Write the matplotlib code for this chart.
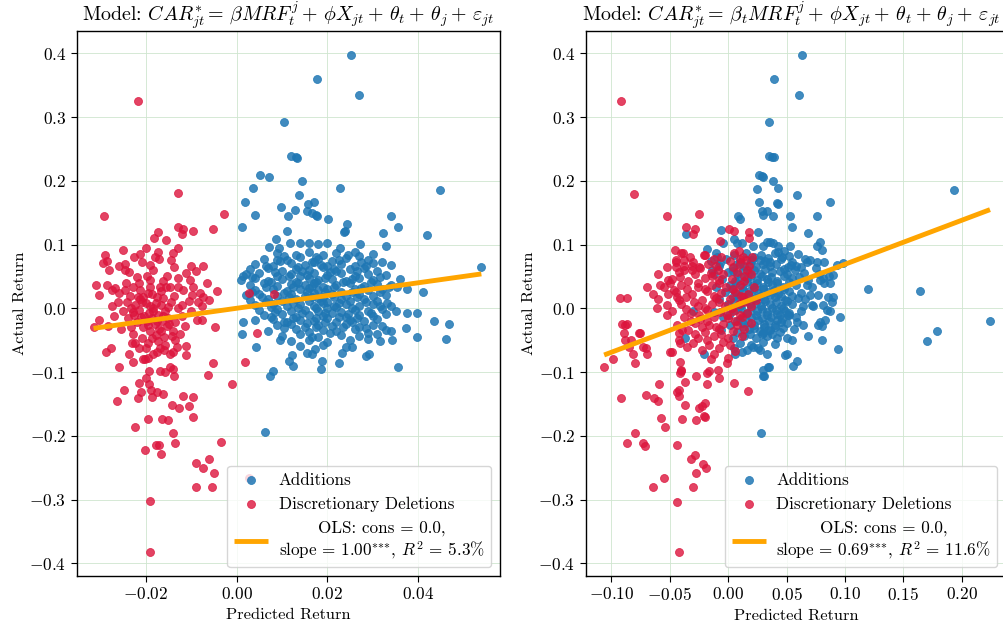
import matplotlib
matplotlib.use("Agg")
import matplotlib.pyplot as plt

plt.rcParams['font.family'] = ['cmr10', 'DejaVu Serif']
plt.rcParams['mathtext.fontset'] = 'cm'
plt.rcParams['axes.formatter.use_mathtext'] = True

# ---------------- data (predicted return, actual return) ----------------
ADD_LEFT = [
    (0.0251, 0.397), (0.0177, 0.359), (0.0269, 0.335), (0.0105, 0.292), (0.0120, 0.239), (0.0131, 0.238),
    (0.0133, 0.235), (0.0052, 0.209), (0.0072, 0.206), (0.0037, 0.188), (0.0143, 0.199), (0.0227, 0.188),
    (0.0448, 0.186), (0.0138, 0.178), (0.0019, 0.167), (0.0098, 0.159), (0.0129, 0.154), (0.0157, 0.164),
    (0.0171, 0.166), (0.0156, 0.153), (0.0166, 0.149), (0.0175, 0.146), (0.0178, 0.144), (0.0113, 0.145),
    (0.0041, 0.147), (0.0201, 0.140), (0.0243, 0.133), (0.0237, 0.120), (0.0340, 0.145), (0.0355, 0.128),
    (0.0323, 0.118), (0.0329, 0.098), (0.0419, 0.115), (0.0111, 0.122), (0.0013, 0.127), (0.0271, 0.101),
    (0.0539, 0.064), (0.0411, 0.026), (0.0375, 0.030), (0.0353, 0.034), (0.0331, 0.008), (0.0467, -0.024),
    (0.0434, -0.020), (0.0461, -0.048), (0.0397, -0.008), (0.0375, -0.007), (0.0373, -0.031), (0.0398, -0.045),
    (0.0356, -0.092), (0.0062, -0.194), (0.0074, -0.107), (0.0081, -0.098), (0.0124, -0.091), (0.0116, -0.083),
    (0.0121, -0.074), (0.0186, -0.095), (0.0187, -0.083), (0.0225, -0.086), (0.0284, -0.075), (0.0291, -0.072),
    (0.0254, -0.061), (0.0232, -0.070), (0.0155, -0.070), (0.0166, -0.071), (0.0173, -0.064), (0.0096, -0.050),
    (0.0087, 0.108), (0.0072, 0.096), (0.0094, 0.095), (0.0089, 0.076), (0.0015, 0.050), (0.0239, 0.121),
    (0.0228, 0.095), (0.0118, 0.102), (0.0140, 0.102), (0.0160, 0.103), (0.0180, 0.101), (0.0200, 0.102),
    (0.0011, -0.041), (0.0015, -0.021), (0.0043, -0.060), (0.0316, -0.052), (0.0342, -0.050), (0.0351, -0.005),
    (0.0340, -0.035), (0.0320, -0.028), (0.0260, 0.088), (0.0300, 0.085),
    (0.009, 0.086), (0.013, 0.083), (0.016, 0.088), (0.019, 0.084), (0.022, 0.087), (0.027, 0.082),
    (0.006, 0.078), (0.011, 0.075), (0.014, 0.080), (0.018, 0.077), (0.021, 0.074), (0.024, 0.079),
    (0.029, 0.076), (0.032, 0.073), (0.004, 0.070), (0.008, 0.067), (0.012, 0.071), (0.015, 0.068),
    (0.017, 0.072), (0.020, 0.066), (0.023, 0.070), (0.026, 0.067), (0.030, 0.071), (0.034, 0.068),
    (0.003, 0.061), (0.007, 0.063), (0.010, 0.059), (0.013, 0.062), (0.016, 0.060), (0.019, 0.064),
    (0.022, 0.058), (0.025, 0.061), (0.028, 0.063), (0.031, 0.059), (0.002, 0.053), (0.005, 0.055),
    (0.009, 0.051), (0.012, 0.054), (0.014, 0.050), (0.017, 0.056), (0.020, 0.052), (0.023, 0.055),
    (0.026, 0.050), (0.029, 0.054), (0.033, 0.052), (0.001, 0.045), (0.004, 0.047), (0.007, 0.043),
    (0.010, 0.046), (0.013, 0.042), (0.016, 0.048), (0.018, 0.044), (0.021, 0.046), (0.024, 0.043),
    (0.027, 0.047), (0.030, 0.044), (0.036, 0.046), (0.003, 0.037), (0.006, 0.039), (0.009, 0.035),
    (0.012, 0.038), (0.015, 0.036), (0.017, 0.040), (0.019, 0.034), (0.022, 0.037), (0.025, 0.039),
    (0.028, 0.035), (0.031, 0.038), (0.034, 0.036), (0.004, 0.029), (0.008, 0.031), (0.011, 0.027),
    (0.014, 0.030), (0.016, 0.032), (0.018, 0.028), (0.020, 0.030), (0.023, 0.026), (0.026, 0.031),
    (0.029, 0.028), (0.032, 0.030), (0.002, 0.021), (0.005, 0.023), (0.009, 0.019), (0.012, 0.022),
    (0.015, 0.020), (0.017, 0.024), (0.019, 0.018), (0.021, 0.022), (0.024, 0.020), (0.027, 0.023),
    (0.030, 0.019), (0.033, 0.021), (0.003, 0.013), (0.007, 0.015), (0.010, 0.011), (0.013, 0.014),
    (0.016, 0.012), (0.018, 0.016), (0.020, 0.010), (0.023, 0.014), (0.025, 0.012), (0.028, 0.015),
    (0.031, 0.011), (0.004, 0.005), (0.008, 0.007), (0.011, 0.003), (0.014, 0.006), (0.017, 0.004),
    (0.019, 0.008), (0.022, 0.002), (0.024, 0.006), (0.027, 0.004), (0.030, 0.007), (0.034, 0.003),
    (0.005, -0.003), (0.009, -0.001), (0.012, -0.005), (0.015, -0.002), (0.018, -0.004), (0.020, 0.000),
    (0.023, -0.006), (0.026, -0.002), (0.029, -0.004), (0.032, -0.001), (0.006, -0.011), (0.010, -0.009),
    (0.013, -0.013), (0.016, -0.010), (0.019, -0.012), (0.021, -0.008), (0.024, -0.014), (0.027, -0.010),
    (0.030, -0.012), (0.033, -0.009), (0.004, -0.019), (0.008, -0.017), (0.011, -0.021), (0.014, -0.018),
    (0.017, -0.020), (0.020, -0.016), (0.022, -0.022), (0.025, -0.018), (0.028, -0.020), (0.031, -0.017),
    (0.009, -0.027), (0.012, -0.025), (0.015, -0.029), (0.018, -0.026), (0.021, -0.028), (0.024, -0.024),
    (0.027, -0.030), (0.030, -0.026), (0.007, -0.035), (0.013, -0.033), (0.016, -0.037), (0.019, -0.034),
    (0.022, -0.036), (0.026, -0.032), (0.029, -0.038), (0.033, -0.034), (0.010, -0.043), (0.014, -0.041),
    (0.018, -0.045), (0.023, -0.042), (0.027, -0.044), (0.031, -0.040), (0.012, -0.051), (0.016, -0.049),
    (0.020, -0.053), (0.025, -0.050), (0.029, -0.048), (0.014, -0.059), (0.019, -0.057), (0.024, -0.060),
    (0.0105, 0.082), (0.0175, 0.081), (0.0245, 0.083), (0.0095, 0.074), (0.0165, 0.073), (0.0225, 0.076),
    (0.0275, 0.072), (0.0065, 0.066), (0.0135, 0.065), (0.0185, 0.068), (0.0215, 0.062), (0.0285, 0.066),
    (0.0085, 0.057), (0.0145, 0.058), (0.0205, 0.057), (0.0265, 0.058), (0.0035, 0.049), (0.0115, 0.050),
    (0.0155, 0.052), (0.0195, 0.048), (0.0255, 0.046), (0.0315, 0.049), (0.0075, 0.041), (0.0135, 0.040),
    (0.0175, 0.042), (0.0235, 0.041), (0.0295, 0.041), (0.0065, 0.033), (0.0125, 0.034), (0.0165, 0.035),
    (0.0215, 0.033), (0.0275, 0.032), (0.0335, 0.033), (0.0035, 0.026), (0.0105, 0.024), (0.0155, 0.025),
    (0.0195, 0.026), (0.0255, 0.025), (0.0315, 0.026), (0.0055, 0.017), (0.0115, 0.018), (0.0165, 0.017),
    (0.0215, 0.018), (0.0265, 0.018), (0.0065, 0.010), (0.0125, 0.009), (0.0185, 0.012), (0.0225, 0.009),
    (0.0285, 0.010), (0.0075, 0.002), (0.0135, 0.001), (0.0175, 0.000), (0.0215, 0.004), (0.0255, 0.001),
    (0.0315, 0.003), (0.0085, -0.006), (0.0145, -0.008), (0.0195, -0.007), (0.0245, -0.009), (0.0295, -0.007),
    (0.0075, -0.014), (0.0125, -0.016), (0.0175, -0.015), (0.0225, -0.013), (0.0265, -0.015), (0.0105, -0.022),
    (0.0155, -0.023), (0.0195, -0.021), (0.0255, -0.022), (0.0105, -0.031), (0.0175, -0.030), (0.0235, -0.029),
    (0.0285, -0.031), (0.0165, -0.045), (0.0205, -0.039),
]

DEL_LEFT = [
    (-0.0218, 0.325), (-0.0292, 0.144), (-0.0129, 0.181), (-0.0027, 0.148), (-0.0130, 0.127), (-0.0117, 0.125),
    (-0.0120, 0.117), (-0.0096, 0.122), (-0.0053, 0.124), (-0.0182, 0.111), (-0.0172, 0.119), (-0.0155, 0.107),
    (-0.0251, 0.091), (-0.0290, 0.084), (-0.0286, 0.074), (-0.0295, 0.071), (-0.0280, 0.060), (-0.0258, 0.066),
    (-0.0226, 0.080), (-0.0213, 0.085), (-0.0209, 0.073), (-0.0172, 0.089), (-0.0170, 0.078), (-0.0141, 0.087),
    (-0.0145, 0.076), (-0.0137, 0.065), (-0.0100, 0.066), (-0.0074, 0.067), (-0.0236, 0.057), (-0.0220, 0.049),
    (-0.0191, 0.068), (-0.0183, 0.060), (-0.0198, 0.050), (-0.0154, 0.051),
    (-0.0309, 0.037), (-0.0304, 0.021), (-0.0286, 0.037), (-0.0275, 0.029), (-0.0268, 0.032), (-0.0258, 0.024),
    (-0.0243, 0.039), (-0.0229, 0.034), (-0.0218, 0.018), (-0.0205, 0.018), (-0.0209, 0.010), (-0.0196, 0.024),
    (-0.0176, 0.018), (-0.0169, 0.034), (-0.0155, 0.034), (-0.0146, 0.034), (-0.0130, 0.034), (-0.0102, 0.044),
    (-0.0099, 0.021), (-0.0095, 0.034), (-0.0073, 0.018), (-0.0080, 0.024), (-0.0044, 0.027), (-0.0275, 0.003),
    (-0.0242, 0.010), (-0.0224, 0.005), (-0.0191, 0.003), (-0.0161, 0.016), (-0.0121, 0.005), (-0.0077, 0.003),
    (0.0028, 0.024), (0.0083, 0.022), (0.0046, -0.038), (0.0019, -0.084), (-0.0011, -0.119), (0.0028, -0.267),
    (-0.0191, -0.382), (-0.0191, -0.303), (-0.0090, -0.281), (-0.0055, -0.281), (-0.0050, -0.258), (-0.0060, -0.236),
    (-0.0074, -0.251), (-0.0090, -0.243), (-0.0034, -0.210), (-0.0202, -0.222), (-0.0177, -0.215), (-0.0171, -0.215),
    (-0.0167, -0.229), (-0.0135, -0.212), (-0.0139, -0.196), (-0.0224, -0.186), (-0.0194, -0.173), (-0.0165, -0.173),
    (-0.0152, -0.176), (-0.0097, -0.170), (-0.0142, -0.152), (-0.0127, -0.157), (-0.0119, -0.138), (-0.0105, -0.154),
    (-0.0097, -0.139), (-0.0263, -0.145), (-0.0247, -0.128), (-0.0218, -0.141), (-0.0210, -0.131), (-0.0186, -0.139),
    (-0.0176, -0.131), (-0.0161, -0.135), (-0.0215, -0.117), (-0.0199, -0.110), (-0.0193, -0.119), (-0.0189, -0.128),
    (-0.0259, -0.092), (-0.0229, -0.085), (-0.0202, -0.080), (-0.0192, -0.098), (-0.0169, -0.098), (-0.0158, -0.100),
    (-0.0138, -0.107), (-0.0141, -0.096), (-0.0147, -0.092), (-0.0062, -0.105), (-0.0053, -0.086), (-0.0288, -0.068),
    (-0.0277, -0.063), (-0.0236, -0.071), (-0.0231, -0.054), (-0.0224, -0.055), (-0.0199, -0.063), (-0.0183, -0.072),
    (-0.0176, -0.068), (-0.0169, -0.063), (-0.0205, -0.080), (-0.0194, -0.078), (-0.0146, -0.071), (-0.0139, -0.068),
    (-0.0132, -0.060), (-0.0135, -0.050), (-0.0111, -0.073), (-0.0112, -0.059), (-0.0047, -0.030), (-0.0088, -0.019),
    (-0.0077, -0.019), (-0.0315, -0.029), (-0.0302, -0.018), (-0.0282, -0.028),
    (-0.0250, -0.005), (-0.0240, -0.015), (-0.0232, 0.000), (-0.0225, -0.010), (-0.0220, -0.022), (-0.0215, -0.003),
    (-0.0210, -0.014), (-0.0205, -0.030), (-0.0200, 0.008), (-0.0198, -0.020), (-0.0193, -0.008), (-0.0190, -0.036),
    (-0.0187, -0.015), (-0.0183, 0.000), (-0.0180, -0.025), (-0.0177, -0.042), (-0.0174, -0.010), (-0.0170, -0.032),
    (-0.0167, 0.005), (-0.0164, -0.020), (-0.0160, -0.045), (-0.0157, -0.005), (-0.0153, -0.028), (-0.0150, -0.015),
    (-0.0145, 0.010), (-0.0140, -0.036), (-0.0135, -0.022), (-0.0130, 0.000), (-0.0125, -0.040), (-0.0120, -0.012),
    (-0.0113, -0.028), (-0.0105, 0.012), (-0.0100, -0.005), (-0.0235, 0.020), (-0.0212, 0.028), (-0.0186, 0.022),
    (-0.0166, 0.027), (-0.0262, 0.010), (-0.0270, -0.012), (-0.0255, -0.032), (-0.0228, -0.040), (-0.0208, -0.047),
    (-0.0195, -0.055), (-0.0172, -0.052), (-0.0158, -0.058), (-0.0215, 0.040), (-0.0190, 0.045), (-0.0162, 0.043),
    (-0.0128, 0.048), (-0.0112, 0.055), (-0.0085, 0.010), (-0.0065, 0.040), (-0.0060, 0.013), (-0.0090, 0.058),
    (-0.0245, 0.070), (-0.0200, 0.095), (-0.0130, 0.095), (-0.0245, 0.060), (-0.0180, 0.080),
    (-0.0228, -0.006), (-0.0203, -0.012), (-0.0185, -0.004), (-0.0162, -0.012), (-0.0148, -0.024), (-0.0196, -0.026),
    (-0.0176, -0.020), (-0.0212, 0.014), (-0.0178, 0.008), (-0.0152, 0.002), (-0.0233, -0.030), (-0.0186, -0.046),
    (-0.0166, -0.036), (-0.0142, -0.044), (-0.0245, 0.028), (-0.0190, 0.034), (-0.0137, 0.020), (-0.0118, 0.028),
    (-0.0160, -0.066), (-0.0215, -0.062),
]

ADD_RIGHT = [
    (0.0636, 0.397), (0.0397, 0.359), (0.0611, 0.335), (0.0354, 0.292), (0.0351, 0.239), (0.0374, 0.237),
    (0.0397, 0.238), (0.0288, 0.208), (0.0302, 0.206), (0.0382, 0.199), (0.0431, 0.189), (0.1938, 0.186),
    (0.0593, 0.178), (0.0870, 0.166), (0.0431, 0.164), (0.0531, 0.145), (0.0551, 0.128), (0.0765, 0.145),
    (0.0688, 0.118), (0.0788, 0.104), (0.0765, 0.097), (0.0808, 0.091), (0.0531, 0.098), (0.0431, 0.098),
    (0.0479, 0.090), (0.0360, 0.104), (0.0302, 0.098), (0.0982, 0.071), (0.0931, 0.068), (0.0765, 0.072),
    (0.0825, 0.072), (0.0659, 0.077), (0.0679, 0.072), (0.0582, 0.066), (0.0514, 0.064), (0.1196, 0.030),
    (0.1644, 0.027), (0.0865, 0.050), (0.0902, 0.052), (0.0816, 0.047), (0.0873, 0.039), (0.0822, 0.039),
    (0.0788, 0.044), (0.0679, 0.037), (0.0702, 0.021), (0.0774, 0.021), (0.0859, 0.018), (0.0896, 0.017),
    (0.0716, 0.005), (0.0816, 0.005), (0.2243, -0.020), (0.1792, -0.036), (0.1706, -0.052), (0.0942, -0.064),
    (0.0959, -0.014), (0.0802, -0.050), (0.0682, -0.044), (0.0588, -0.021), (0.0594, -0.083), (0.0554, -0.090),
    (0.0488, -0.073), (0.0502, -0.071), (0.0345, -0.092), (0.0297, -0.106), (0.0285, -0.195), (0.0888, 0.010),
    (0.0845, -0.003), (0.0788, -0.021), (0.0830, -0.018), (0.0774, -0.026), (0.0802, -0.028), (0.0731, 0.003),
    (0.0873, -0.005), (0.0502, -0.047), (0.0545, -0.050), (0.0474, -0.031), (0.0445, -0.011), (0.0417, -0.018),
    (0.0488, -0.005), (0.0525, -0.011), (0.0345, -0.034), (0.0302, -0.039), (0.0336, -0.071), (0.0302, -0.097),
    (0.0308, -0.107), (0.0354, -0.092), (0.0274, -0.065), (0.0217, -0.060), (0.0060, -0.071), (0.0117, -0.068),
    (0.0046, -0.063), (-0.0297, -0.005), (-0.0368, -0.047), (-0.0210, -0.071),
    (0.0268, 0.209), (0.0246, 0.187), (0.0268, 0.167), (0.0288, 0.152), (0.0302, 0.146), (0.0331, 0.152),
    (0.0388, 0.144), (0.0417, 0.165), (0.0088, 0.144), (0.0103, 0.140), (-0.0060, 0.123), (-0.0360, 0.117),
    (0.0046, 0.108), (-0.0040, 0.102), (0.0074, 0.102), (0.0117, 0.102), (0.0260, 0.120), (0.0331, 0.104),
    (0.0388, 0.102), (0.0217, 0.097), (-0.0183, 0.093), (-0.0097, 0.081), (-0.0068, 0.071), (-0.0140, 0.060),
    (0.0203, 0.076), (0.0274, 0.076), (0.0360, 0.073), (0.0431, 0.089),
    (-0.010, 0.086), (0.005, 0.083), (0.015, 0.087), (0.028, 0.084), (0.040, 0.086), (0.052, 0.082), (0.060, 0.085),
    (-0.015, 0.074), (-0.002, 0.077), (0.010, 0.073), (0.020, 0.076), (0.032, 0.074), (0.045, 0.077), (0.055, 0.073),
    (0.070, 0.075), (-0.008, 0.066), (0.004, 0.063), (0.014, 0.067), (0.024, 0.064), (0.036, 0.066), (0.048, 0.062),
    (0.062, 0.065), (0.075, 0.063), (-0.012, 0.054), (0.000, 0.057), (0.008, 0.053), (0.018, 0.056), (0.027, 0.054),
    (0.038, 0.057), (0.050, 0.053), (0.065, 0.056), (0.078, 0.054), (-0.005, 0.046), (0.006, 0.043), (0.016, 0.047),
    (0.025, 0.044), (0.033, 0.046), (0.042, 0.043), (0.055, 0.047), (0.068, 0.044), (-0.010, 0.034), (0.002, 0.037),
    (0.012, 0.033), (0.021, 0.036), (0.030, 0.034), (0.038, 0.037), (0.047, 0.033), (0.058, 0.036), (0.072, 0.034),
    (-0.003, 0.026), (0.008, 0.023), (0.018, 0.027), (0.026, 0.024), (0.034, 0.026), (0.043, 0.023), (0.052, 0.027),
    (0.062, 0.024), (-0.008, 0.014), (0.004, 0.017), (0.014, 0.013), (0.023, 0.016), (0.031, 0.014), (0.040, 0.017),
    (0.049, 0.013), (0.060, 0.016), (0.066, 0.014), (0.000, 0.006), (0.010, 0.003), (0.019, 0.007), (0.028, 0.004),
    (0.036, 0.006), (0.045, 0.003), (0.055, 0.007), (0.064, 0.004), (-0.012, -0.006), (0.006, -0.003), (0.016, -0.007),
    (0.025, -0.004), (0.033, -0.006), (0.041, -0.003), (0.052, -0.007), (0.062, -0.004), (-0.004, -0.014),
    (0.010, -0.017), (0.020, -0.013), (0.029, -0.016), (0.037, -0.014), (0.046, -0.017), (0.058, -0.013),
    (0.002, -0.026), (0.013, -0.023), (0.022, -0.027), (0.031, -0.024), (0.040, -0.026), (0.050, -0.023),
    (0.064, -0.027), (-0.006, -0.034), (0.008, -0.037), (0.018, -0.033), (0.027, -0.036), (0.036, -0.034),
    (0.044, -0.037), (0.056, -0.033), (0.004, -0.046), (0.014, -0.043), (0.024, -0.047), (0.033, -0.044),
    (0.042, -0.046), (0.010, -0.054), (0.020, -0.057), (0.030, -0.053), (0.040, -0.056), (0.016, -0.066),
    (0.026, -0.063),
    (0.022, 0.080), (0.034, 0.079), (0.046, 0.081), (0.008, 0.069), (0.019, 0.070), (0.030, 0.069), (0.041, 0.070),
    (0.054, 0.068), (0.004, 0.059), (0.013, 0.060), (0.022, 0.060), (0.032, 0.061), (0.044, 0.059), (0.057, 0.060),
    (0.011, 0.049), (0.020, 0.050), (0.029, 0.051), (0.037, 0.049), (0.048, 0.050), (0.061, 0.049), (0.007, 0.040),
    (0.016, 0.041), (0.025, 0.039), (0.034, 0.041), (0.042, 0.040), (0.052, 0.041), (0.003, 0.030), (0.013, 0.029),
    (0.022, 0.031), (0.030, 0.030), (0.039, 0.029), (0.048, 0.031), (0.009, 0.020), (0.018, 0.021), (0.027, 0.019),
    (0.036, 0.021), (0.045, 0.020), (0.055, 0.019), (0.005, 0.010), (0.015, 0.011), (0.024, 0.009), (0.032, 0.011),
    (0.041, 0.010), (0.050, 0.011), (0.011, 0.000), (0.020, 0.001), (0.029, -0.001), (0.038, 0.000), (0.047, 0.001),
    (0.001, -0.010), (0.015, -0.009), (0.024, -0.011), (0.033, -0.010), (0.042, -0.009), (0.051, -0.011),
    (0.008, -0.020), (0.017, -0.021), (0.026, -0.019), (0.035, -0.020), (0.045, -0.021), (0.013, -0.030),
    (0.022, -0.031), (0.031, -0.029), (0.040, -0.030), (0.019, -0.040), (0.029, -0.041), (0.038, -0.040),
]

DEL_RIGHT = [
    (-0.0916, 0.325), (-0.0805, 0.180), (-0.0525, 0.144), (-0.0246, 0.148), (-0.0362, 0.127), (-0.0285, 0.124),
    (-0.0297, 0.117), (0.0011, 0.124), (0.0051, 0.121), (0.0182, 0.119), (0.0182, 0.110), (-0.0066, 0.106),
    (-0.0454, 0.091), (-0.0388, 0.087), (-0.0445, 0.073), (-0.0377, 0.076), (-0.0445, 0.064), (-0.0382, 0.060),
    (-0.0311, 0.066), (-0.0246, 0.064), (-0.0205, 0.084), (0.0094, 0.090), (0.0103, 0.077), (0.0126, 0.081),
    (0.0203, 0.081), (0.0165, 0.060), (-0.0691, 0.034), (-0.0645, 0.022), (-0.0582, 0.037), (-0.0502, 0.039),
    (-0.0519, 0.044), (-0.0462, 0.028), (-0.0439, 0.018), (-0.0425, 0.013), (-0.0511, 0.022), (-0.0925, 0.016),
    (-0.0862, 0.016), (-0.0611, 0.000), (-0.0525, 0.005), (-0.0520, -0.011), (-0.0482, -0.068), (-0.0497, -0.068),
    (-0.0425, -0.050), (-0.0411, -0.055), (-0.0425, -0.039), (-0.0396, -0.034), (-0.0354, -0.060), (-0.0411, -0.084),
    (-0.0405, -0.097), (-0.1062, -0.092), (-0.0987, -0.080), (-0.0796, -0.086), (-0.0816, -0.072), (-0.0853, -0.060),
    (-0.0882, -0.050), (-0.0833, -0.049), (-0.0759, -0.039), (-0.0896, -0.039), (-0.0868, -0.025), (-0.0725, -0.060),
    (-0.0702, -0.063), (-0.0696, -0.071), (-0.0425, -0.382), (-0.0434, -0.304), (-0.0640, -0.281), (-0.0548, -0.267),
    (-0.0297, -0.281), (-0.0274, -0.258), (-0.0188, -0.251), (-0.0217, -0.244), (-0.0320, -0.237), (-0.0288, -0.230),
    (-0.0434, -0.215), (-0.0862, -0.212), (-0.0731, -0.211), (-0.0714, -0.216), (-0.0796, -0.196), (-0.0576, -0.172),
    (-0.0537, -0.186), (-0.0394, -0.174), (-0.0277, -0.176), (-0.0197, -0.170), (-0.0919, -0.140), (-0.0702, -0.136),
    (-0.0634, -0.140), (-0.0597, -0.145), (-0.0588, -0.119), (-0.0439, -0.131), (-0.0422, -0.128), (-0.0417, -0.138),
    (-0.0368, -0.152), (-0.0246, -0.157), (-0.0226, -0.153), (-0.0197, -0.149), (-0.0203, -0.169), (-0.0368, -0.116),
    (-0.0411, -0.101), (-0.0405, -0.098), (-0.0183, -0.119), (-0.0274, -0.106), (-0.0183, -0.102), (-0.0168, -0.099),
    (-0.0074, -0.110), (-0.0083, -0.097), (-0.0011, -0.086), (0.0054, -0.118), (0.0174, -0.129), (-0.0910, -0.024),
    (-0.0880, -0.026), (-0.0760, -0.038),
    (-0.040, 0.086), (-0.020, 0.083), (0.005, 0.087), (-0.045, 0.076), (-0.030, 0.073), (-0.012, 0.077),
    (0.002, 0.074), (0.015, 0.076), (-0.052, 0.064), (-0.038, 0.067), (-0.024, 0.063), (-0.010, 0.066),
    (0.004, 0.064), (0.018, 0.067), (-0.060, 0.054), (-0.042, 0.057), (-0.028, 0.053), (-0.015, 0.056),
    (-0.004, 0.054), (0.008, 0.057), (0.020, 0.053), (-0.048, 0.046), (-0.034, 0.043), (-0.020, 0.047),
    (-0.008, 0.044), (0.003, 0.046), (0.014, 0.043), (-0.055, 0.034), (-0.040, 0.037), (-0.026, 0.033),
    (-0.014, 0.036), (-0.002, 0.034), (0.010, 0.037), (0.022, 0.033), (-0.045, 0.026), (-0.031, 0.023),
    (-0.018, 0.027), (-0.006, 0.024), (0.006, 0.026), (0.017, 0.023), (-0.060, 0.014), (-0.036, 0.017),
    (-0.022, 0.013), (-0.010, 0.016), (0.002, 0.014), (0.013, 0.017), (0.024, 0.013), (-0.040, 0.006),
    (-0.026, 0.003), (-0.014, 0.007), (-0.003, 0.004), (0.009, 0.006), (0.020, 0.003), (-0.048, -0.004),
    (-0.032, -0.007), (-0.018, -0.003), (-0.007, -0.006), (0.004, -0.004), (0.016, -0.007), (-0.038, -0.014),
    (-0.024, -0.017), (-0.012, -0.013), (0.000, -0.016), (0.012, -0.014), (-0.044, -0.026), (-0.028, -0.023),
    (-0.016, -0.027), (-0.004, -0.024), (0.008, -0.026), (0.020, -0.023), (-0.034, -0.034), (-0.020, -0.037),
    (-0.008, -0.033), (0.004, -0.036), (-0.026, -0.046), (-0.012, -0.043), (0.000, -0.047), (0.012, -0.044),
    (-0.030, -0.054), (-0.016, -0.057), (-0.004, -0.053), (-0.022, -0.066), (-0.008, -0.063), (0.006, -0.067),
    (-0.015, -0.080), (0.000, -0.078),
    (-0.033, 0.080), (-0.006, 0.081), (0.010, 0.070), (-0.017, 0.070), (-0.031, 0.060), (-0.009, 0.060),
    (0.014, 0.050), (-0.014, 0.050), (-0.041, 0.049), (-0.026, 0.040), (-0.008, 0.040), (0.004, 0.030),
    (-0.020, 0.031), (-0.035, 0.030), (-0.012, 0.020), (0.011, 0.020), (-0.029, 0.010), (-0.008, 0.010),
    (0.014, 0.010), (-0.020, 0.000), (0.003, 0.000), (-0.036, -0.001), (-0.025, -0.010), (-0.001, -0.010),
    (0.010, -0.010), (-0.018, -0.020), (0.006, -0.020), (-0.032, -0.020), (-0.022, -0.030), (-0.010, -0.030),
    (0.014, -0.032), (-0.018, -0.050), (-0.006, -0.040), (-0.028, -0.040), (-0.012, -0.072), (0.002, -0.058),
]

OLS_LEFT = {"cons": 0.0, "slope": 1.00, "r2": 5.3}
OLS_RIGHT = {"cons": 0.0, "slope": 0.69, "r2": 11.6}

TITLE_LEFT = (r"Model: $CAR^{*}_{jt} = \,\beta MRF^{j}_{t} + \,\phi X_{jt} + \,\theta_t + \,"
              r"\theta_j + \,\varepsilon_{jt}$")
TITLE_RIGHT = (r"Model: $CAR^{*}_{jt} = \,\beta_t MRF^{j}_{t} + \,\phi X_{jt} + \,\theta_t + \,"
               r"\theta_j + \,\varepsilon_{jt}$")

LEFT_XTICKS = [-0.02, 0.00, 0.02, 0.04]
RIGHT_XTICKS = [-0.10, -0.05, 0.00, 0.05, 0.10, 0.15, 0.20]
YTICKS = [-0.4, -0.3, -0.2, -0.1, 0.0, 0.1, 0.2, 0.3, 0.4]

BLUE = "#1f77b4"
RED = "#dc143c"
ORANGE = "#ffa500"
GRID = "#cfe5cf"

W, H = 1004, 630
fig = plt.figure(figsize=(W / 100, H / 100), dpi=100)
top, bot = 31, 576
axL = fig.add_axes([76.7 / W, 1 - bot / H, (500 - 76.7) / W, (bot - top) / H])
axR = fig.add_axes([585.7 / W, 1 - bot / H, (1006 - 585.7) / W, (bot - top) / H])


def mfmt(v, nd):
    s = "%.*f" % (nd, 0.0 if abs(v) < 1e-12 else v)
    return "$%s$" % s


def panel(ax, adds, dels, ols, title, xticks, xlim, title_x):
    ax.grid(True, color=GRID, linewidth=0.6, zorder=0)
    ax.set_axisbelow(True)
    ax.scatter([p[0] for p in adds], [p[1] for p in adds], s=33, color=BLUE, alpha=0.85,
               linewidths=0.6, edgecolors=BLUE, label="Additions", zorder=2)
    ax.scatter([p[0] for p in dels], [p[1] for p in dels], s=33, color=RED, alpha=0.8,
               linewidths=0.6, edgecolors=RED, label="Discretionary Deletions", zorder=3)
    xs = [p[0] for p in adds] + [p[0] for p in dels]
    x0, x1 = min(xs), max(xs)
    lab = ("OLS: cons = %.1f,\nslope = %.2f$^{{*}{*}{*}}$, $R^2$ = %.1f%%"
           % (ols["cons"], ols["slope"], ols["r2"]))
    ax.plot([x0, x1], [ols["cons"] + ols["slope"] * x0, ols["cons"] + ols["slope"] * x1],
            color=ORANGE, linewidth=3.5, label=lab, zorder=4, solid_capstyle="butt")
    ax.set_xlim(*xlim)
    ax.set_ylim(-0.42, 0.435)
    ax.set_xticks(xticks)
    ax.set_xticklabels([mfmt(v, 2) for v in xticks])
    ax.set_yticks(YTICKS)
    ax.set_yticklabels([mfmt(v, 1) for v in YTICKS])
    ax.tick_params(labelsize=12.5, direction="out", length=4, width=0.8)
    ax.set_xlabel("Predicted Return", fontsize=11.8)
    ax.set_ylabel("Actual Return", fontsize=11.8, labelpad=1.5)
    ax.set_title(title, fontsize=14.4, pad=6, x=title_x)
    for s in ax.spines.values():
        s.set_linewidth(1.0)
    leg = ax.legend(loc="lower right", fontsize=12.3, framealpha=0.8, edgecolor="0.8",
                    handlelength=2.0, borderaxespad=0.5, handletextpad=0.6)
    for t in leg.get_texts():
        t.set_multialignment("center")


panel(axL, ADD_LEFT, DEL_LEFT, OLS_LEFT, TITLE_LEFT, LEFT_XTICKS, (-0.0352, 0.058), 0.5)
panel(axR, ADD_RIGHT, DEL_RIGHT, OLS_RIGHT, TITLE_RIGHT, RIGHT_XTICKS, (-0.122, 0.238), 0.49)

fig.savefig("out.png", dpi=100)
